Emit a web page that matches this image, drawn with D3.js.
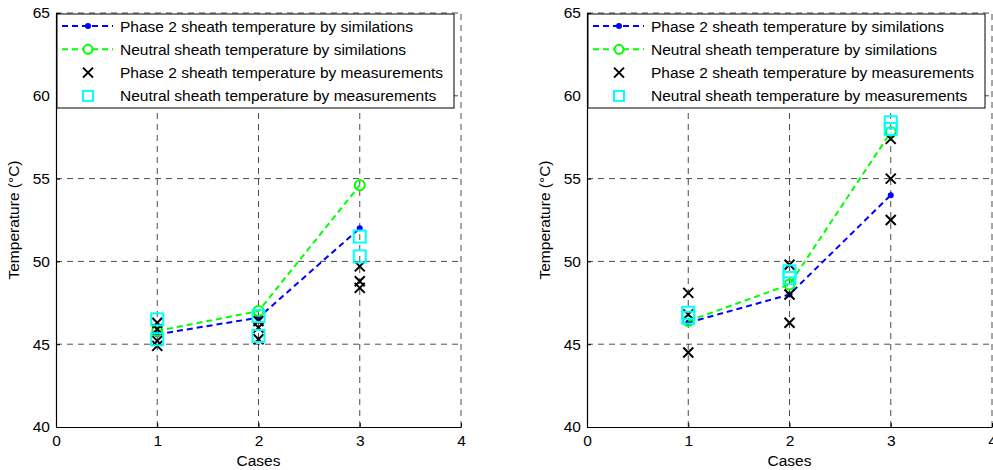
<!DOCTYPE html>
<html>
<head>
  <meta charset="utf-8">
  <title>Sheath temperature</title>
  <script src="https://cdn.jsdelivr.net/npm/d3@7"></script>
  <style>
    body { margin: 0; background: #fff; }
    svg { font-family: "Liberation Sans", Arial, sans-serif; }
  </style>
</head>
<body>
<div id="chart"></div>
<script>
// cases on x axis
var cases = [1, 2, 3];
var xTicks = [0, 1, 2, 3, 4];
var yTicks = [40, 45, 50, 55, 60, 65];
var legendLabels = [
  'Phase 2 sheath temperature by similations',
  'Neutral sheath temperature by similations',
  'Phase 2 sheath temperature by measurements',
  'Neutral sheath temperature by measurements'
];

// left panel
var leftPhaseSim = [45.6, 46.6, 52.0];
var leftNeutralSim = [45.8, 47.0, 54.6];
var leftPhaseMeas = [[46.3, 45.9, 45.2, 44.9], [46.4, 46.0, 45.3], [49.7, 48.8, 48.4]];
var leftNeutralMeas = [[46.5, 45.3], [46.7, 45.5], [51.5, 50.3]];

// right panel
var rightPhaseSim = [46.3, 48.0, 54.0];
var rightNeutralSim = [46.4, 48.6, 57.8];
var rightPhaseMeas = [[48.1, 46.8, 44.5], [49.8, 48.0, 46.3], [57.4, 55.0, 52.5]];
var rightNeutralMeas = [[46.9, 46.6], [49.4, 49.0], [58.4, 58.0]];

var W = 993, H = 470;
var FS = 15.5;
var svg = d3.select('#chart').append('svg')
  .attr('width', W).attr('height', H);

function panel(left, phaseSim, neutralSim, phaseMeas, neutralMeas) {
  var pw = 405, top = 13, bottom = 427;
  var x = d3.scaleLinear().domain([0, 4]).range([left, left + pw]);
  var y = d3.scaleLinear().domain([40, 65]).range([bottom, top]);
  var g = svg.append('g');

  // grid
  g.selectAll('.vgrid').data(xTicks.slice(1)).enter().append('line')
    .attr('x1', function(d){ return x(d); }).attr('x2', function(d){ return x(d); })
    .attr('y1', bottom).attr('y2', top)
    .attr('stroke', '#000').attr('stroke-opacity', 0.7)
    .attr('stroke-dasharray', '6,5');
  g.selectAll('.hgrid').data(yTicks.slice(1)).enter().append('line')
    .attr('x1', left).attr('x2', left + pw)
    .attr('y1', function(d){ return y(d); }).attr('y2', function(d){ return y(d); })
    .attr('stroke', '#000').attr('stroke-opacity', 0.7)
    .attr('stroke-dasharray', '6,5');

  // axes
  var xa = g.append('g').attr('transform', 'translate(0,' + bottom + ')')
    .call(d3.axisBottom(x).tickValues(xTicks).tickFormat(d3.format('d'))
      .tickSizeInner(-4).tickSizeOuter(0).tickPadding(8));
  var ya = g.append('g').attr('transform', 'translate(' + left + ',0)')
    .call(d3.axisLeft(y).tickValues(yTicks).tickFormat(d3.format('d'))
      .tickSizeInner(-4).tickSizeOuter(0).tickPadding(6));
  [xa, ya].forEach(function(a){
    a.select('.domain').attr('stroke', '#000').attr('stroke-width', 1.2);
    a.selectAll('text').attr('font-size', FS).attr('fill', '#000')
      .attr('font-family', '"Liberation Sans", Arial, sans-serif');
  });
  g.append('text').attr('x', left + pw / 2).attr('y', 466)
    .attr('text-anchor', 'middle').attr('font-size', FS).text('Cases');
  g.append('text')
    .attr('transform', 'translate(' + (left - 37) + ',' + ((top + bottom) / 2) + ') rotate(-90)')
    .attr('text-anchor', 'middle').attr('font-size', FS).text('Temperature (\u00B0C)');

  var line = d3.line().x(function(d, i){ return x(cases[i]); }).y(function(d){ return y(d); });

  // simulations
  g.append('path').datum(phaseSim).attr('d', line)
    .attr('fill', 'none').attr('stroke', '#0000ff').attr('stroke-width', 2)
    .attr('stroke-dasharray', '6,4');
  g.selectAll('.bdot').data(phaseSim).enter().append('circle')
    .attr('cx', function(d, i){ return x(cases[i]); }).attr('cy', function(d){ return y(d); })
    .attr('r', 3).attr('fill', '#0000ff');
  g.append('path').datum(neutralSim).attr('d', line)
    .attr('fill', 'none').attr('stroke', '#00ff00').attr('stroke-width', 2)
    .attr('stroke-dasharray', '6,4');
  g.selectAll('.gcirc').data(neutralSim).enter().append('circle')
    .attr('cx', function(d, i){ return x(cases[i]); }).attr('cy', function(d){ return y(d); })
    .attr('r', 5).attr('fill', 'none').attr('stroke', '#00ff00').attr('stroke-width', 2);

  // measurements
  var pm = [];
  phaseMeas.forEach(function(arr, i){ arr.forEach(function(v){ pm.push([cases[i], v]); }); });
  var nm = [];
  neutralMeas.forEach(function(arr, i){ arr.forEach(function(v){ nm.push([cases[i], v]); }); });

  g.selectAll('.xm').data(pm).enter().append('path')
    .attr('transform', function(d){ return 'translate(' + x(d[0]) + ',' + y(d[1]) + ')'; })
    .attr('d', 'M-5,-5L5,5M-5,5L5,-5')
    .attr('stroke', '#000').attr('stroke-width', 2).attr('fill', 'none');
  g.selectAll('.sq').data(nm).enter().append('rect')
    .attr('x', function(d){ return x(d[0]) - 6; }).attr('y', function(d){ return y(d[1]) - 6; })
    .attr('width', 12).attr('height', 12)
    .attr('fill', 'none').attr('stroke', '#00ffff').attr('stroke-width', 2);

  // legend
  var lg = g.append('g').attr('transform', 'translate(' + (left + 1) + ',' + (top + 1) + ')');
  lg.append('rect').attr('width', 397).attr('height', 94)
    .attr('fill', '#fff').attr('stroke', '#000').attr('stroke-width', 1);
  legendLabels.forEach(function(lab, i){
    var cy = 12 + i * 23.3;
    var row = lg.append('g').attr('transform', 'translate(0,' + cy + ')');
    if (i === 0 || i === 1) {
      var col = i === 0 ? '#0000ff' : '#00ff00';
      row.append('line').attr('x1', 5).attr('x2', 56).attr('y1', 0).attr('y2', 0)
        .attr('stroke', col).attr('stroke-width', 2).attr('stroke-dasharray', '6,4');
      if (i === 0) row.append('circle').attr('cx', 31).attr('r', 3).attr('fill', col);
      else row.append('circle').attr('cx', 31).attr('r', 4.5).attr('fill', '#fff')
        .attr('stroke', col).attr('stroke-width', 2);
    } else if (i === 2) {
      row.append('path').attr('d', 'M26,-5L36,5M26,5L36,-5')
        .attr('stroke', '#000').attr('stroke-width', 2);
    } else {
      row.append('rect').attr('x', 26).attr('y', -5).attr('width', 10).attr('height', 10)
        .attr('fill', 'none').attr('stroke', '#00ffff').attr('stroke-width', 2);
    }
    row.append('text').attr('x', 63).attr('y', 5.5).attr('font-size', FS).text(lab);
  });
}

panel(56, leftPhaseSim, leftNeutralSim, leftPhaseMeas, leftNeutralMeas);
panel(587, rightPhaseSim, rightNeutralSim, rightPhaseMeas, rightNeutralMeas);
</script>
</body>
</html>
